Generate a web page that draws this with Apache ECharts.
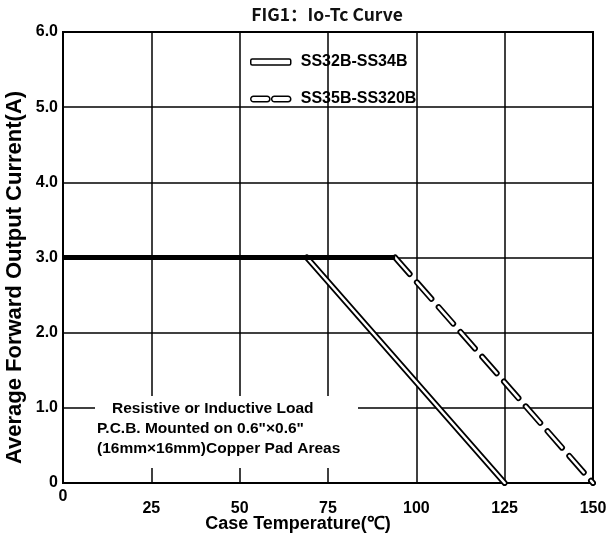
<!DOCTYPE html>
<html>
<head>
<meta charset="utf-8">
<script src="https://cdn.jsdelivr.net/npm/echarts@6/dist/echarts.min.js"></script>
<style>html,body{margin:0;padding:0;background:#fff}#c{width:613px;height:540px}</style>
</head>
<body>
<div id="c"></div>
<script>
// Data
const xTicks = [0, 25, 50, 75, 100, 125, 150];
const yTicks = [0, 1, 2, 3, 4, 5, 6];
const solidTemp = [0, 69, 125];      // SS32B-SS34B, case temperature (°C)
const solidCurrent = [3, 3, 0];      // A
const dashedTemp = [0, 94, 150];     // SS35B-SS320B
const dashedCurrent = [3, 3, 0];
const seriesNames = ['SS32B-SS34B', 'SS35B-SS320B'];
const noteLines = ['Resistive or Inductive Load', 'P.C.B. Mounted on 0.6"×0.6"', '(16mm×16mm)Copper Pad Areas'];

function pts(xs, ys, from, to) {
  const out = [];
  for (let i = from; i <= to; i++) out.push([xs[i], ys[i]]);
  return out;
}

const FONT = 'Liberation Sans, Arial, sans-serif';
const chart = echarts.init(document.getElementById('c'));
const dash = [22, 11];
const noteFont = 'bold 15.5px ' + FONT;

chart.setOption({
  animation: false,
  backgroundColor: '#fff',
  title: {
    text: 'FIG1：Io-Tc Curve',
    left: 322, top: 1, textAlign: 'center',
    textStyle: { fontFamily: 'Noto Sans CJK SC', fontSize: 17.5, fontWeight: 'bold', color: '#111' }
  },
  grid: { left: 63, right: 20, top: 32, bottom: 57, show: true, borderColor: '#000', borderWidth: 2,
          containLabel: false, outerBoundsMode: 'none' },
  legend: {
    orient: 'vertical', left: 245, top: 49, itemGap: 21,
    itemWidth: 40, itemHeight: 6,
    itemStyle: { color: '#fff', borderColor: '#000', borderWidth: 1.5 },
    textStyle: { fontFamily: FONT, fontSize: 16, fontWeight: 'bold', color: '#000', padding: [0, 0, 0, 5] },
    data: [
      { name: seriesNames[0], icon: 'roundRect' },
      { name: seriesNames[1], icon: 'path://M3,0H18A3,3,0,0,1,18,6H3A3,3,0,0,1,3,0ZM26,0H41A3,3,0,0,1,41,6H26A3,3,0,0,1,26,0Z' }
    ]
  },
  xAxis: {
    type: 'value', min: xTicks[0], max: xTicks[xTicks.length - 1], interval: 25,
    name: 'Case Temperature(℃)', nameLocation: 'middle', nameGap: 32, nameMoveOverlap: false,
    nameTextStyle: { fontFamily: FONT, fontSize: 18, fontWeight: 'bold', color: '#000', padding: [0, 60, 0, 0] },
    axisLine: { show: true, lineStyle: { color: '#000', width: 2 } },
    axisTick: { show: false },
    axisLabel: {
      margin: 6,
      formatter: v => v === 0 ? '{z|0}' : '{n|' + v + '}',
      rich: {
        z: { fontFamily: FONT, fontSize: 16, fontWeight: 'bold', color: '#000', padding: [0, 0, 12, 0] },
        n: { fontFamily: FONT, fontSize: 16, fontWeight: 'bold', color: '#000', padding: [12, 0, 0, 0] }
      }
    },
    splitLine: { show: true, lineStyle: { color: '#000', width: 1.5 } }
  },
  yAxis: {
    type: 'value', min: yTicks[0], max: yTicks[yTicks.length - 1], interval: 1,
    name: 'Average Forward Output Current(A)', nameLocation: 'middle', nameGap: 37, nameMoveOverlap: false,
    nameTextStyle: { fontFamily: FONT, fontSize: 22, fontWeight: 'bold', color: '#000', padding: [0, 40, 0, 0] },
    axisLine: { show: true, lineStyle: { color: '#000', width: 2 } },
    axisTick: { show: false },
    axisLabel: {
      margin: 5, fontFamily: FONT, fontSize: 16, fontWeight: 'bold', color: '#000',
      formatter: v => v === 0 ? '0' : v.toFixed(1)
    },
    splitLine: { show: true, lineStyle: { color: '#000', width: 1.5 } }
  },
  graphic: [
    { type: 'rect', left: 95, top: 396, z: 100, zlevel: 1, shape: { width: 263, height: 72 }, style: { fill: '#fff' } },
    { type: 'text', left: 112, top: 401, z: 101, zlevel: 1, style: { text: noteLines[0], font: noteFont, fill: '#000' } },
    { type: 'text', left: 97, top: 421, z: 101, zlevel: 1, style: { text: noteLines[1], font: noteFont, fill: '#000' } },
    { type: 'text', left: 97, top: 441, z: 101, zlevel: 1, style: { text: noteLines[2], font: noteFont, fill: '#000' } }
  ],
  series: [
    { name: 'flat1', type: 'line', data: pts(solidTemp, solidCurrent, 0, 1), symbol: 'none', silent: true,
      lineStyle: { color: '#000', width: 5 }, z: 5 },
    { name: 'flat2', type: 'line', data: pts(dashedTemp, dashedCurrent, 0, 1), symbol: 'none', silent: true,
      lineStyle: { color: '#000', width: 5 }, z: 5 },
    { name: seriesNames[0], type: 'line', data: pts(solidTemp, solidCurrent, 1, 2), symbol: 'none',
      itemStyle: { color: '#fff', borderColor: '#000' },
      lineStyle: { color: '#000', width: 6, cap: 'round' }, z: 3 },
    { name: seriesNames[0] + ' inner', type: 'line', data: pts(solidTemp, solidCurrent, 1, 2), symbol: 'none', silent: true,
      lineStyle: { color: '#fff', width: 2.5, cap: 'round' }, z: 4 },
    { name: seriesNames[1], type: 'line', data: pts(dashedTemp, dashedCurrent, 1, 2), symbol: 'none',
      itemStyle: { color: '#fff', borderColor: '#000' },
      lineStyle: { color: '#000', width: 6, cap: 'round', type: dash }, z: 3 },
    { name: seriesNames[1] + ' inner', type: 'line', data: pts(dashedTemp, dashedCurrent, 1, 2), symbol: 'none', silent: true,
      lineStyle: { color: '#fff', width: 2.5, cap: 'round', type: dash }, z: 4 }
  ]
});
</script>
</body>
</html>
